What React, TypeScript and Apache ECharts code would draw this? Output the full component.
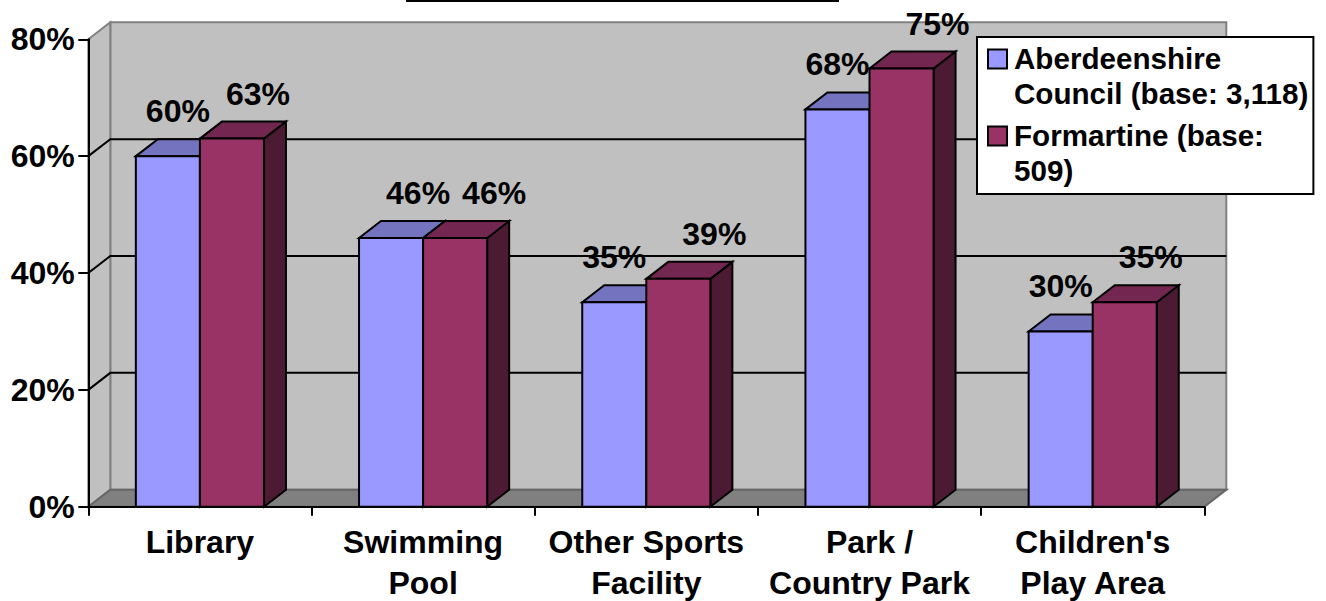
import React, { useEffect, useRef } from "react";
import * as echarts from "echarts";

const categories = ["Library", "Swimming\nPool", "Other Sports\nFacility", "Park /\nCountry Park", "Children's\nPlay Area"];
const aberdeenshire = [60, 46, 35, 68, 30];
const formartine = [63, 46, 39, 75, 35];
const gridValues = [20, 40, 60];
const seriesNames = ["Aberdeenshire\nCouncil (base: 3,118)", "Formartine (base:\n509)"];

// label shifts relative to the front-face centre of each bar
const aberdeenshireLabelShift = [10, 27, 0, 0, 0];
const formartineLabelShift = [26, 39, 36, 36, 26];

const DX = 22;
const DY = -17;
const BAR_RATIO = 64 / 223;
const FONT = "'Liberation Sans', Arial, sans-serif";
const LEGEND_ICON = "path://M0 0L0.01 0ZM0 8.5H19V27.5H0ZM0 69L0.01 69Z";

function poly(points: number[][], fill: string, stroke = "#000", lineWidth = 2) {
  return { type: "polygon", shape: { points }, style: { fill, stroke, lineWidth, lineJoin: "miter" } };
}

function barSeries(name: string, values: number[], shift: number[], side: number, colors: string[]) {
  return {
    type: "custom",
    name,
    z: 2,
    silent: true,
    itemStyle: { color: colors[0] },
    data: values.map((v, i) => [i, v]),
    renderItem: (_p: any, api: any) => {
      const cat = api.value(0);
      const val = api.value(1);
      const [cx, top] = api.coord([cat, val]);
      const [, base] = api.coord([cat, 0]);
      const w = api.size([1, 0])[0] * BAR_RATIO;
      const x0 = side < 0 ? cx - w : cx;
      const x1 = x0 + w;
      return {
        type: "group",
        children: [
          poly([[x1, top], [x1 + DX, top + DY], [x1 + DX, base + DY], [x1, base]], colors[2]),
          poly([[x0, top], [x0 + DX, top + DY], [x1 + DX, top + DY], [x1, top]], colors[1]),
          poly([[x0, top], [x1, top], [x1, base], [x0, base]], colors[0]),
          {
            type: "text",
            z2: 50,
            style: {
              x: (x0 + x1) / 2 + shift[cat],
              y: top + DY - 28,
              text: `${val}%`,
              fill: "#000",
              font: `bold 32px ${FONT}`,
              align: "center",
              verticalAlign: "middle",
            },
          },
        ],
      };
    },
  };
}

const wallSeries = {
  type: "custom",
  z: 0,
  silent: true,
  data: [0],
  renderItem: (p: any, api: any) => {
    const { x, y, width, height } = p.coordSys;
    const b = y + height;
    const r = x + width;
    const wall = "#C0C0C0";
    const edge = "#808080";
    const children: any[] = [
      poly([[x + DX, y + DY], [r + DX, y + DY], [r + DX, b + DY], [x + DX, b + DY]], wall, edge),
      poly([[x, y], [x + DX, y + DY], [x + DX, b + DY], [x, b]], wall, edge),
      poly([[x, b], [x + DX, b + DY], [r + DX, b + DY], [r, b]], edge, "#666666"),
    ];
    gridValues.forEach((v) => {
      const gy = api.coord([0, v])[1];
      children.push({
        type: "polyline",
        shape: { points: [[x, gy], [x + DX, gy + DY], [r + DX, gy + DY]] },
        style: { fill: "none", stroke: "#000", lineWidth: 2 },
      });
    });
    return { type: "group", children };
  },
};

export default function App() {
  const ref = useRef<HTMLDivElement>(null);
  useEffect(() => {
    document.body.style.margin = "0";
    const chart = echarts.init(ref.current!, undefined, { renderer: "svg" });
    const labelFont = { fontFamily: FONT, fontWeight: "bold" as const, fontSize: 32, color: "#000" };
    chart.setOption({
      animation: false,
      backgroundColor: "#fff",
      grid: { left: 88.3, right: 121.7, top: 39.3, bottom: 94.3, outerBoundsMode: "none" },
      xAxis: {
        type: "category",
        data: categories,
        z: 3,
        axisLine: { lineStyle: { color: "#000", width: 2 } },
        axisTick: { show: true, alignWithLabel: false, length: 9, lineStyle: { color: "#000", width: 2 } },
        axisLabel: { ...labelFont, interval: 0, margin: 15, lineHeight: 41 },
        splitLine: { show: false },
      },
      yAxis: {
        type: "value",
        min: 0,
        max: 80,
        interval: 20,
        z: 3,
        axisLine: { show: true, lineStyle: { color: "#000", width: 2 } },
        axisTick: { show: true, length: 10, lineStyle: { color: "#000", width: 2 } },
        axisLabel: { ...labelFont, margin: 13.5, formatter: "{value}%" },
        splitLine: { show: false },
      },
      legend: {
        show: true,
        orient: "vertical",
        left: 977,
        top: 37,
        z: 10,
        backgroundColor: "#fff",
        borderColor: "#000",
        borderWidth: 2,
        borderRadius: 0,
        padding: [3, 5, 6, 10],
        itemGap: 6,
        itemWidth: 19,
        itemHeight: 69,
        selectedMode: false,
        itemStyle: { borderColor: "#000", borderWidth: 2 },
        textStyle: { fontFamily: FONT, fontWeight: "bold", fontSize: 29.6, lineHeight: 35, color: "#000", padding: [0, 0, 0, 2] },
        data: seriesNames.map((name) => ({ name, icon: LEGEND_ICON })),
      },
      graphic: [
        { type: "rect", shape: { x: 406, y: 0, width: 433, height: 2 }, style: { fill: "#000" } },
      ],
      series: [
        wallSeries,
        barSeries(seriesNames[0], aberdeenshire, aberdeenshireLabelShift, -1, ["#9999FF", "#7373BF", "#4D4D80"]),
        barSeries(seriesNames[1], formartine, formartineLabelShift, 1, ["#993366", "#732650", "#4D1A33"]),
      ],
    });
    return () => chart.dispose();
  }, []);
  return <div ref={ref} style={{ width: 1326, height: 601 }} />;
}
